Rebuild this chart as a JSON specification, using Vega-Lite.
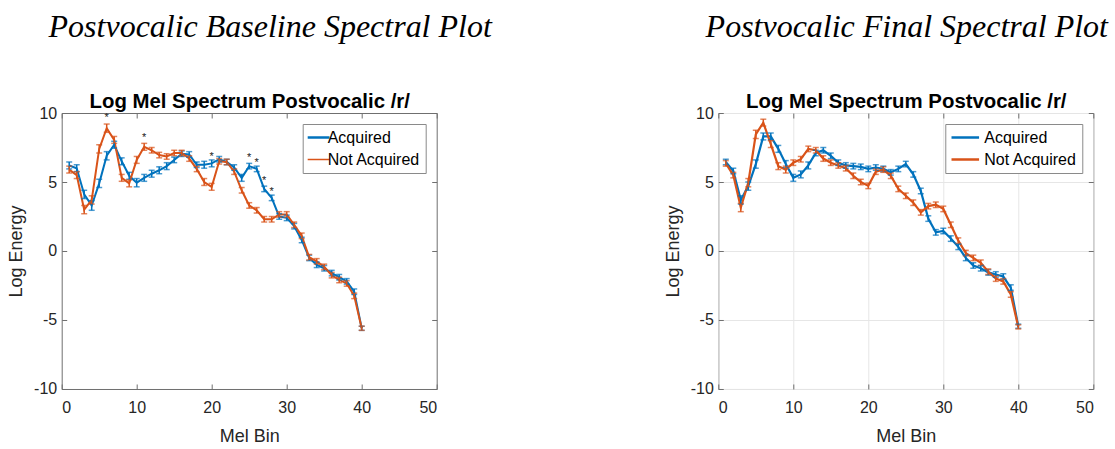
{
  "$schema": "https://vega.github.io/schema/vega-lite/v6.json",
  "background": "white",
  "padding": {"left": 6.7, "top": 10, "right": 0, "bottom": 0},
  "bounds": "flush",
  "spacing": 281.6,
  "resolve": {"scale": {"color": "independent"}, "legend": {"color": "independent"}},
  "config": {
    "font": "Liberation Sans",
    "view": {"stroke": "#6e6e6e", "strokeWidth": 1},
    "axis": {
      "domain": false,
      "grid": false,
      "ticks": true,
      "tickSize": -5,
      "tickColor": "#6e6e6e",
      "labelFont": "Liberation Sans",
      "labelFontSize": 16,
      "labelColor": "#262626",
      "labelExpr": "datum.value + ''",
      "titleFont": "Liberation Sans",
      "titleFontSize": 18,
      "titleFontWeight": "normal",
      "titleColor": "#262626"
    },
    "axisX": {"labelPadding": 16},
    "axisY": {"labelPadding": 10},
    "legend": {
      "orient": "top-right",
      "offset": 11,
      "strokeColor": "#8a8a8a",
      "fillColor": "white",
      "padding": 5,
      "labelFont": "Liberation Sans",
      "labelFontSize": 16,
      "labelColor": "#000000",
      "labelLimit": 300,
      "symbolType": "stroke",
      "symbolSize": 760,
      "symbolStrokeWidth": 2.2,
      "clipHeight": 17,
      "rowPadding": 5,
      "labelOffset": 4,
      "title": null
    }
  },
  "datasets": {
    "base": [
      {"bin": 1, "g": "Acquired", "v": 6.2, "e": 0.25}, {"bin": 2, "g": "Acquired", "v": 6.0, "e": 0.25},
      {"bin": 3, "g": "Acquired", "v": 4.1, "e": 0.3}, {"bin": 4, "g": "Acquired", "v": 3.3, "e": 0.35},
      {"bin": 5, "g": "Acquired", "v": 4.9, "e": 0.3}, {"bin": 6, "g": "Acquired", "v": 6.9, "e": 0.3},
      {"bin": 7, "g": "Acquired", "v": 7.7, "e": 0.25}, {"bin": 8, "g": "Acquired", "v": 6.5, "e": 0.25},
      {"bin": 9, "g": "Acquired", "v": 5.45, "e": 0.25}, {"bin": 10, "g": "Acquired", "v": 4.95, "e": 0.3},
      {"bin": 11, "g": "Acquired", "v": 5.3, "e": 0.25}, {"bin": 12, "g": "Acquired", "v": 5.6, "e": 0.25},
      {"bin": 13, "g": "Acquired", "v": 5.85, "e": 0.25}, {"bin": 14, "g": "Acquired", "v": 6.15, "e": 0.25},
      {"bin": 15, "g": "Acquired", "v": 6.6, "e": 0.2}, {"bin": 16, "g": "Acquired", "v": 7.05, "e": 0.2},
      {"bin": 17, "g": "Acquired", "v": 7.0, "e": 0.2}, {"bin": 18, "g": "Acquired", "v": 6.25, "e": 0.2},
      {"bin": 19, "g": "Acquired", "v": 6.25, "e": 0.25}, {"bin": 20, "g": "Acquired", "v": 6.35, "e": 0.25},
      {"bin": 21, "g": "Acquired", "v": 6.65, "e": 0.2}, {"bin": 22, "g": "Acquired", "v": 6.45, "e": 0.2},
      {"bin": 23, "g": "Acquired", "v": 6.05, "e": 0.2}, {"bin": 24, "g": "Acquired", "v": 5.3, "e": 0.25},
      {"bin": 25, "g": "Acquired", "v": 6.15, "e": 0.2}, {"bin": 26, "g": "Acquired", "v": 5.95, "e": 0.2},
      {"bin": 27, "g": "Acquired", "v": 4.5, "e": 0.2}, {"bin": 28, "g": "Acquired", "v": 3.85, "e": 0.2},
      {"bin": 29, "g": "Acquired", "v": 2.5, "e": 0.2}, {"bin": 30, "g": "Acquired", "v": 2.4, "e": 0.2},
      {"bin": 31, "g": "Acquired", "v": 1.8, "e": 0.2}, {"bin": 32, "g": "Acquired", "v": 0.8, "e": 0.2},
      {"bin": 33, "g": "Acquired", "v": -0.5, "e": 0.2}, {"bin": 34, "g": "Acquired", "v": -1.0, "e": 0.2},
      {"bin": 35, "g": "Acquired", "v": -1.25, "e": 0.2}, {"bin": 36, "g": "Acquired", "v": -1.6, "e": 0.2},
      {"bin": 37, "g": "Acquired", "v": -1.9, "e": 0.2}, {"bin": 38, "g": "Acquired", "v": -2.2, "e": 0.2},
      {"bin": 39, "g": "Acquired", "v": -2.95, "e": 0.2}, {"bin": 40, "g": "Acquired", "v": -5.6, "e": 0.15},
      {"bin": 1, "g": "Not Acquired", "v": 5.9, "e": 0.25}, {"bin": 2, "g": "Not Acquired", "v": 5.5, "e": 0.25},
      {"bin": 3, "g": "Not Acquired", "v": 3.0, "e": 0.3}, {"bin": 4, "g": "Not Acquired", "v": 3.7, "e": 0.3},
      {"bin": 5, "g": "Not Acquired", "v": 7.4, "e": 0.3}, {"bin": 6, "g": "Not Acquired", "v": 8.9, "e": 0.3},
      {"bin": 7, "g": "Not Acquired", "v": 8.05, "e": 0.25}, {"bin": 8, "g": "Not Acquired", "v": 5.3, "e": 0.25},
      {"bin": 9, "g": "Not Acquired", "v": 4.9, "e": 0.25}, {"bin": 10, "g": "Not Acquired", "v": 6.6, "e": 0.25},
      {"bin": 11, "g": "Not Acquired", "v": 7.55, "e": 0.25}, {"bin": 12, "g": "Not Acquired", "v": 7.3, "e": 0.2},
      {"bin": 13, "g": "Not Acquired", "v": 6.95, "e": 0.2}, {"bin": 14, "g": "Not Acquired", "v": 6.85, "e": 0.2},
      {"bin": 15, "g": "Not Acquired", "v": 7.1, "e": 0.2}, {"bin": 16, "g": "Not Acquired", "v": 7.1, "e": 0.2},
      {"bin": 17, "g": "Not Acquired", "v": 6.7, "e": 0.2}, {"bin": 18, "g": "Not Acquired", "v": 5.95, "e": 0.2},
      {"bin": 19, "g": "Not Acquired", "v": 5.0, "e": 0.25}, {"bin": 20, "g": "Not Acquired", "v": 4.65, "e": 0.25},
      {"bin": 21, "g": "Not Acquired", "v": 6.5, "e": 0.2}, {"bin": 22, "g": "Not Acquired", "v": 6.45, "e": 0.2},
      {"bin": 23, "g": "Not Acquired", "v": 5.75, "e": 0.2}, {"bin": 24, "g": "Not Acquired", "v": 4.4, "e": 0.2},
      {"bin": 25, "g": "Not Acquired", "v": 3.3, "e": 0.2}, {"bin": 26, "g": "Not Acquired", "v": 2.95, "e": 0.2},
      {"bin": 27, "g": "Not Acquired", "v": 2.3, "e": 0.2}, {"bin": 28, "g": "Not Acquired", "v": 2.3, "e": 0.2},
      {"bin": 29, "g": "Not Acquired", "v": 2.65, "e": 0.2}, {"bin": 30, "g": "Not Acquired", "v": 2.65, "e": 0.2},
      {"bin": 31, "g": "Not Acquired", "v": 1.9, "e": 0.2}, {"bin": 32, "g": "Not Acquired", "v": 1.1, "e": 0.2},
      {"bin": 33, "g": "Not Acquired", "v": -0.45, "e": 0.2}, {"bin": 34, "g": "Not Acquired", "v": -0.75, "e": 0.2},
      {"bin": 35, "g": "Not Acquired", "v": -1.15, "e": 0.2}, {"bin": 36, "g": "Not Acquired", "v": -1.75, "e": 0.2},
      {"bin": 37, "g": "Not Acquired", "v": -2.1, "e": 0.2}, {"bin": 38, "g": "Not Acquired", "v": -2.35, "e": 0.2},
      {"bin": 39, "g": "Not Acquired", "v": -3.25, "e": 0.2}, {"bin": 40, "g": "Not Acquired", "v": -5.6, "e": 0.15}
    ],
    "final": [
      {"bin": 1, "g": "Acquired", "v": 6.45, "e": 0.2}, {"bin": 2, "g": "Acquired", "v": 5.8, "e": 0.2},
      {"bin": 3, "g": "Acquired", "v": 3.7, "e": 0.3}, {"bin": 4, "g": "Acquired", "v": 4.7, "e": 0.3},
      {"bin": 5, "g": "Acquired", "v": 6.3, "e": 0.3}, {"bin": 6, "g": "Acquired", "v": 8.3, "e": 0.25},
      {"bin": 7, "g": "Acquired", "v": 8.3, "e": 0.25}, {"bin": 8, "g": "Acquired", "v": 7.4, "e": 0.25},
      {"bin": 9, "g": "Acquired", "v": 6.3, "e": 0.25}, {"bin": 10, "g": "Acquired", "v": 5.3, "e": 0.25},
      {"bin": 11, "g": "Acquired", "v": 5.55, "e": 0.25}, {"bin": 12, "g": "Acquired", "v": 6.2, "e": 0.25},
      {"bin": 13, "g": "Acquired", "v": 7.1, "e": 0.2}, {"bin": 14, "g": "Acquired", "v": 7.3, "e": 0.2},
      {"bin": 15, "g": "Acquired", "v": 6.9, "e": 0.2}, {"bin": 16, "g": "Acquired", "v": 6.4, "e": 0.2},
      {"bin": 17, "g": "Acquired", "v": 6.2, "e": 0.2}, {"bin": 18, "g": "Acquired", "v": 6.15, "e": 0.2},
      {"bin": 19, "g": "Acquired", "v": 6.1, "e": 0.2}, {"bin": 20, "g": "Acquired", "v": 5.95, "e": 0.2},
      {"bin": 21, "g": "Acquired", "v": 6.05, "e": 0.2}, {"bin": 22, "g": "Acquired", "v": 5.95, "e": 0.2},
      {"bin": 23, "g": "Acquired", "v": 5.7, "e": 0.2}, {"bin": 24, "g": "Acquired", "v": 5.95, "e": 0.2},
      {"bin": 25, "g": "Acquired", "v": 6.3, "e": 0.2}, {"bin": 26, "g": "Acquired", "v": 5.55, "e": 0.2},
      {"bin": 27, "g": "Acquired", "v": 4.35, "e": 0.2}, {"bin": 28, "g": "Acquired", "v": 2.35, "e": 0.2},
      {"bin": 29, "g": "Acquired", "v": 1.35, "e": 0.2}, {"bin": 30, "g": "Acquired", "v": 1.45, "e": 0.2},
      {"bin": 31, "g": "Acquired", "v": 0.9, "e": 0.2}, {"bin": 32, "g": "Acquired", "v": 0.3, "e": 0.2},
      {"bin": 33, "g": "Acquired", "v": -0.5, "e": 0.2}, {"bin": 34, "g": "Acquired", "v": -1.05, "e": 0.2},
      {"bin": 35, "g": "Acquired", "v": -1.25, "e": 0.2}, {"bin": 36, "g": "Acquired", "v": -1.55, "e": 0.2},
      {"bin": 37, "g": "Acquired", "v": -1.7, "e": 0.2}, {"bin": 38, "g": "Acquired", "v": -1.85, "e": 0.2},
      {"bin": 39, "g": "Acquired", "v": -2.65, "e": 0.2}, {"bin": 40, "g": "Acquired", "v": -5.45, "e": 0.15},
      {"bin": 1, "g": "Not Acquired", "v": 6.35, "e": 0.2}, {"bin": 2, "g": "Not Acquired", "v": 5.5, "e": 0.2},
      {"bin": 3, "g": "Not Acquired", "v": 3.15, "e": 0.3}, {"bin": 4, "g": "Not Acquired", "v": 4.95, "e": 0.3},
      {"bin": 5, "g": "Not Acquired", "v": 8.45, "e": 0.3}, {"bin": 6, "g": "Not Acquired", "v": 9.3, "e": 0.25},
      {"bin": 7, "g": "Not Acquired", "v": 7.75, "e": 0.25}, {"bin": 8, "g": "Not Acquired", "v": 6.15, "e": 0.25},
      {"bin": 9, "g": "Not Acquired", "v": 5.9, "e": 0.25}, {"bin": 10, "g": "Not Acquired", "v": 6.4, "e": 0.2},
      {"bin": 11, "g": "Not Acquired", "v": 6.65, "e": 0.2}, {"bin": 12, "g": "Not Acquired", "v": 7.4, "e": 0.2},
      {"bin": 13, "g": "Not Acquired", "v": 7.3, "e": 0.2}, {"bin": 14, "g": "Not Acquired", "v": 6.7, "e": 0.2},
      {"bin": 15, "g": "Not Acquired", "v": 6.4, "e": 0.2}, {"bin": 16, "g": "Not Acquired", "v": 6.2, "e": 0.2},
      {"bin": 17, "g": "Not Acquired", "v": 6.0, "e": 0.2}, {"bin": 18, "g": "Not Acquired", "v": 5.45, "e": 0.2},
      {"bin": 19, "g": "Not Acquired", "v": 5.0, "e": 0.2}, {"bin": 20, "g": "Not Acquired", "v": 4.72, "e": 0.2},
      {"bin": 21, "g": "Not Acquired", "v": 5.75, "e": 0.2}, {"bin": 22, "g": "Not Acquired", "v": 5.9, "e": 0.2},
      {"bin": 23, "g": "Not Acquired", "v": 5.45, "e": 0.2}, {"bin": 24, "g": "Not Acquired", "v": 4.5, "e": 0.2},
      {"bin": 25, "g": "Not Acquired", "v": 4.0, "e": 0.2}, {"bin": 26, "g": "Not Acquired", "v": 3.5, "e": 0.2},
      {"bin": 27, "g": "Not Acquired", "v": 2.8, "e": 0.2}, {"bin": 28, "g": "Not Acquired", "v": 3.25, "e": 0.2},
      {"bin": 29, "g": "Not Acquired", "v": 3.35, "e": 0.2}, {"bin": 30, "g": "Not Acquired", "v": 3.05, "e": 0.2},
      {"bin": 31, "g": "Not Acquired", "v": 1.9, "e": 0.2}, {"bin": 32, "g": "Not Acquired", "v": 0.75, "e": 0.2},
      {"bin": 33, "g": "Not Acquired", "v": -0.15, "e": 0.2}, {"bin": 34, "g": "Not Acquired", "v": -0.5, "e": 0.2},
      {"bin": 35, "g": "Not Acquired", "v": -0.85, "e": 0.2}, {"bin": 36, "g": "Not Acquired", "v": -1.5, "e": 0.2},
      {"bin": 37, "g": "Not Acquired", "v": -2.0, "e": 0.2}, {"bin": 38, "g": "Not Acquired", "v": -2.2, "e": 0.2},
      {"bin": 39, "g": "Not Acquired", "v": -3.15, "e": 0.2}, {"bin": 40, "g": "Not Acquired", "v": -5.5, "e": 0.15}
    ],
    "stars": [
      {"bin": 6, "sy": 9.75}, {"bin": 11, "sy": 8.35}, {"bin": 20, "sy": 6.95},
      {"bin": 25, "sy": 6.85}, {"bin": 26, "sy": 6.5}, {"bin": 27, "sy": 5.2}, {"bin": 28, "sy": 4.45}
    ]
  },
  "hconcat": [
    {
      "title": {"text": "Postvocalic Baseline Spectral Plot", "font": "Liberation Serif", "fontStyle": "italic", "fontWeight": "normal", "fontSize": 32, "color": "#000000", "anchor": "middle", "dx": 21, "offset": 47},
      "width": 375,
      "height": 276,
      "resolve": {"axis": {"x": "independent", "y": "independent"}},
      "layer": [
        {
          "data": {"name": "base"},
          "mark": {"type": "line", "strokeWidth": 2},
          "encoding": {
            "x": {"field": "bin", "type": "quantitative", "scale": {"domain": [0, 50], "nice": false}, "axis": {"values": [0, 10, 20, 30, 40, 50], "title": "Mel Bin", "titlePadding": 12}},
            "y": {"field": "v", "type": "quantitative", "scale": {"domain": [-10, 10], "nice": false}, "axis": {"values": [-10, -5, 0, 5, 10], "title": "Log Energy", "titlePadding": 8}},
            "color": {"field": "g", "type": "nominal", "scale": {"domain": ["Acquired", "Not Acquired"], "range": ["#0072BD", "#D95319"]},
              "legend": {"encode": {"symbols": {"update": {"strokeWidth": {"signal": "datum.value === 'Acquired' ? 2.4 : 1.3"}}}}}}
          }
        },
        {
          "data": {"name": "base"},
          "mark": {"type": "errorbar", "ticks": {"size": 6}, "thickness": 1.5},
          "encoding": {
            "x": {"field": "bin", "type": "quantitative", "axis": null},
            "y": {"field": "v", "type": "quantitative", "axis": null},
            "yError": {"field": "e"},
            "color": {"field": "g", "type": "nominal"}
          }
        },
        {
          "data": {"name": "stars"},
          "mark": {"type": "text", "text": "*", "fontSize": 11, "color": "#262626", "baseline": "middle", "dy": 2},
          "encoding": {
            "x": {"field": "bin", "type": "quantitative", "axis": null},
            "y": {"field": "sy", "type": "quantitative", "axis": null}
          }
        },
        {
          "data": {"name": "stars"},
          "mark": {"type": "point", "opacity": 0},
          "encoding": {
            "x": {"field": "bin", "type": "quantitative", "axis": {"orient": "top", "values": [0, 10, 20, 30, 40, 50], "labels": false, "title": "Log Mel Spectrum Postvocalic /r/", "titleFontWeight": "bold", "titleFontSize": 20.4, "titleColor": "#000000", "titlePadding": 1.5}},
            "y": {"field": "sy", "type": "quantitative", "axis": {"orient": "right", "values": [-10, -5, 0, 5, 10], "labels": false, "title": null}}
          }
        }
      ]
    },
    {
      "title": {"text": "Postvocalic Final Spectral Plot", "font": "Liberation Serif", "fontStyle": "italic", "fontWeight": "normal", "fontSize": 32, "color": "#000000", "anchor": "middle", "dx": 1, "offset": 47},
      "width": 375,
      "height": 276,
      "resolve": {"axis": {"x": "independent", "y": "independent"}},
      "layer": [
        {
          "data": {"name": "final"},
          "mark": {"type": "line", "strokeWidth": 2.2},
          "encoding": {
            "x": {"field": "bin", "type": "quantitative", "scale": {"domain": [0, 50], "nice": false}, "axis": {"values": [0, 10, 20, 30, 40, 50], "title": "Mel Bin", "titlePadding": 12, "grid": true, "gridColor": "#e6e6e6"}},
            "y": {"field": "v", "type": "quantitative", "scale": {"domain": [-10, 10], "nice": false}, "axis": {"values": [-10, -5, 0, 5, 10], "title": "Log Energy", "titlePadding": 8, "grid": true, "gridColor": "#e6e6e6"}},
            "color": {"field": "g", "type": "nominal", "scale": {"domain": ["Acquired", "Not Acquired"], "range": ["#0072BD", "#D95319"]},
              "legend": {"encode": {"symbols": {"update": {"strokeWidth": {"value": 2.4}}}}}}
          }
        },
        {
          "data": {"name": "final"},
          "mark": {"type": "errorbar", "ticks": {"size": 6}, "thickness": 1.5},
          "encoding": {
            "x": {"field": "bin", "type": "quantitative", "axis": null},
            "y": {"field": "v", "type": "quantitative", "axis": null},
            "yError": {"field": "e"},
            "color": {"field": "g", "type": "nominal"}
          }
        },
        {
          "data": {"name": "final"},
          "mark": {"type": "point", "opacity": 0},
          "encoding": {
            "x": {"field": "bin", "type": "quantitative", "axis": {"orient": "top", "values": [0, 10, 20, 30, 40, 50], "labels": false, "title": "Log Mel Spectrum Postvocalic /r/", "titleFontWeight": "bold", "titleFontSize": 20.4, "titleColor": "#000000", "titlePadding": 1.5}},
            "y": {"field": "v", "type": "quantitative", "axis": {"orient": "right", "values": [-10, -5, 0, 5, 10], "labels": false, "title": null}}
          }
        }
      ]
    }
  ]
}
